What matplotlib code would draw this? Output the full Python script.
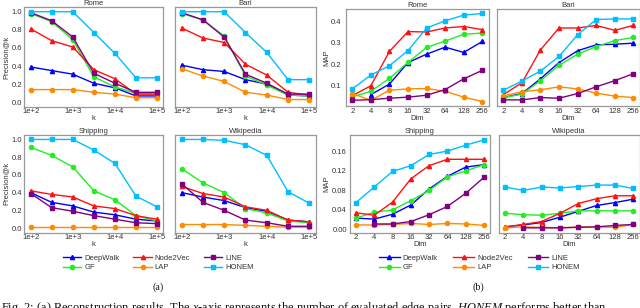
import numpy as np
import matplotlib
matplotlib.use("Agg")
import matplotlib.pyplot as plt
from matplotlib.lines import Line2D

nan = np.nan

methods = ['DeepWalk', 'GF', 'Node2Vec', 'LAP', 'LINE', 'HONEM']
colors = {'DeepWalk': '#0000ff', 'GF': '#22ee22', 'Node2Vec': '#ff1111',
          'LAP': '#ff8c00', 'LINE': '#800080', 'HONEM': '#00bfff'}
markers = {'DeepWalk': '^', 'GF': 'o', 'Node2Vec': '^', 'LAP': 'o',
           'LINE': 's', 'HONEM': 's'}

k_values = [100, 316, 1000, 3162, 10000, 31623, 100000]
k_ticks = [100, 1000, 10000, 100000]
k_labels = ['1e+2', '1e+3', '1e+4', '1e+5']
dims = ['2', '4', '8', '16', '32', '64', '128', '256']

prec_rome = {
    'DeepWalk': [0.39, 0.35, 0.31, 0.21, 0.16, 0.07, 0.07],
    'GF': [0.98, 0.89, 0.69, 0.28, 0.17, 0.10, 0.09],
    'Node2Vec': [0.81, 0.68, 0.61, 0.36, 0.26, 0.09, 0.09],
    'LAP': [0.14, 0.14, 0.14, 0.11, 0.09, 0.05, 0.05],
    'LINE': [0.99, 0.90, 0.72, 0.32, 0.21, 0.11, 0.11],
    'HONEM': [1.0, 1.0, 1.0, 0.77, 0.54, 0.27, 0.27],
}
prec_bari = {
    'DeepWalk': [0.41, 0.36, 0.34, 0.25, 0.20, 0.08, 0.07],
    'GF': [0.98, 0.91, 0.73, 0.29, 0.19, 0.08, 0.07],
    'Node2Vec': [0.82, 0.71, 0.66, 0.42, 0.30, 0.11, 0.08],
    'LAP': [0.37, 0.29, 0.23, 0.11, 0.08, 0.03, 0.03],
    'LINE': [0.99, 0.91, 0.72, 0.31, 0.21, 0.09, 0.09],
    'HONEM': [1.0, 1.0, 1.0, 0.77, 0.55, 0.25, 0.25],
}
prec_shipping = {
    'DeepWalk': [0.40, 0.29, 0.25, 0.18, 0.15, 0.10, 0.08],
    'GF': [0.91, 0.82, 0.69, 0.42, 0.32, 0.14, 0.08],
    'Node2Vec': [0.42, 0.38, 0.35, 0.25, 0.22, 0.14, 0.10],
    'LAP': [0.01, 0.01, 0.01, 0.01, 0.01, 0.01, 0.01],
    'LINE': [0.39, 0.23, 0.19, 0.14, 0.10, 0.06, 0.05],
    'HONEM': [1.0, 1.0, 1.0, 0.88, 0.73, 0.36, 0.24],
}
prec_wiki = {
    'DeepWalk': [0.40, 0.35, 0.31, 0.23, 0.19, 0.09, 0.07],
    'GF': [0.67, 0.51, 0.40, 0.22, 0.17, 0.08, 0.06],
    'Node2Vec': [0.47, 0.39, 0.35, 0.24, 0.20, 0.09, 0.07],
    'LAP': [0.04, 0.04, 0.04, 0.03, 0.02, 0.01, 0.01],
    'LINE': [0.50, 0.29, 0.20, 0.09, 0.06, 0.02, 0.02],
    'HONEM': [1.0, 1.0, 0.99, 0.94, 0.82, 0.41, 0.28],
}

map_rome = {
    'DeepWalk': [nan, 0.055, 0.105, 0.207, 0.247, 0.280, 0.255, 0.307],
    'GF': [0.044, 0.071, 0.132, 0.208, 0.279, 0.309, 0.341, 0.347],
    'Node2Vec': [0.050, 0.097, 0.260, 0.354, 0.352, 0.371, 0.378, 0.363],
    'LAP': [0.060, 0.028, 0.076, 0.082, 0.084, 0.071, 0.043, 0.022],
    'LINE': [0.028, 0.031, 0.038, 0.043, 0.052, 0.079, 0.130, 0.170],
    'HONEM': [0.082, 0.148, 0.192, 0.264, 0.371, 0.405, 0.432, 0.440],
}
map_bari = {
    'DeepWalk': [0.041, 0.060, 0.130, 0.207, 0.263, 0.291, 0.294, 0.299],
    'GF': [0.041, 0.057, 0.121, 0.194, 0.247, 0.283, 0.311, 0.326],
    'Node2Vec': [0.055, 0.111, 0.267, 0.371, 0.371, 0.383, 0.360, 0.383],
    'LAP': [0.049, 0.068, 0.078, 0.092, 0.082, 0.062, 0.048, 0.041],
    'LINE': [0.030, 0.030, 0.041, 0.038, 0.060, 0.092, 0.121, 0.154],
    'HONEM': [0.076, 0.119, 0.167, 0.236, 0.339, 0.411, 0.414, 0.414],
}
map_shipping = {
    'DeepWalk': [0.023, 0.021, 0.031, 0.050, 0.083, 0.109, 0.128, 0.133],
    'GF': [0.023, 0.035, 0.040, 0.059, 0.080, 0.108, 0.120, 0.133],
    'Node2Vec': [0.034, 0.029, 0.056, 0.104, 0.131, 0.144, 0.144, 0.144],
    'LAP': [0.009, 0.009, 0.010, 0.012, 0.010, 0.012, 0.011, 0.008],
    'LINE': [nan, 0.011, 0.011, 0.016, 0.030, 0.047, 0.074, 0.107],
    'HONEM': [0.055, 0.087, 0.119, 0.131, 0.154, 0.161, 0.173, 0.184],
}
map_wiki = {
    'DeepWalk': [0.005, 0.009, 0.014, 0.025, 0.037, 0.049, 0.055, 0.062],
    'GF': [0.033, 0.030, 0.029, 0.033, 0.038, 0.038, 0.038, 0.038],
    'Node2Vec': [0.005, 0.010, 0.016, 0.033, 0.053, 0.063, 0.069, 0.069],
    'LAP': [0.003, 0.005, 0.004, 0.003, 0.005, 0.005, 0.004, 0.010],
    'LINE': [nan, 0.003, 0.003, 0.003, 0.004, 0.005, 0.008, 0.010],
    'HONEM': [0.087, 0.080, 0.087, 0.085, 0.088, 0.091, 0.091, 0.084],
}

plt.rcParams['font.family'] = ['Liberation Sans', 'DejaVu Sans']
plt.rcParams['mathtext.fontset'] = 'custom'
plt.rcParams['mathtext.rm'] = 'Liberation Serif'
plt.rcParams['mathtext.it'] = 'Liberation Serif:italic'

W, H = 640, 308
fig = plt.figure(figsize=(6.4, 3.08), dpi=100)
TXT = '#333333'
FS = 5.5


def add_ax(l, r, t, b):
    return fig.add_axes([l / W, 1 - b / H, (r - l) / W, (b - t) / H])


def style(ax, xpad, ypad):
    for s in ax.spines.values():
        s.set_color('#999999')
        s.set_linewidth(0.9)
    ax.tick_params(length=0, labelsize=FS, colors=TXT)
    ax.tick_params(axis='x', pad=xpad)
    ax.tick_params(axis='y', pad=ypad)


def draw(ax, x, data):
    for m in methods:
        ax.plot(x, data[m], color=colors[m], marker=markers[m], lw=1.0,
                ms=3.0 if markers[m] != 's' else 3.2, label=m)


# (a) panels
pa = [(prec_rome, 'Rome', 24.4, 163.3, 7.2, 106.8, True, 0.6),
      (prec_bari, 'Bari', 175.3, 315.7, 7.2, 106.8, False, 0.6),
      (prec_shipping, 'Shipping', 24.4, 163.3, 135.0, 232.5, True, 1.2),
      (prec_wiki, 'Wikipedia', 175.3, 315.7, 135.0, 232.5, False, 1.2)]
for data, title, l, r, t, b, left, xpad in pa:
    ax = add_ax(l, r, t, b)
    draw(ax, k_values, data)
    ax.set_xscale('log')
    ax.set_xlim(10 ** 1.85, 10 ** 5.15)
    ax.set_xticks(k_ticks)
    ax.set_xticklabels(k_labels)
    ax.xaxis.set_minor_locator(matplotlib.ticker.NullLocator())
    ax.set_ylim(-0.05, 1.05)
    ax.set_yticks([0.0, 0.2, 0.4, 0.6, 0.8, 1.0])
    if left:
        ax.set_ylabel('Precision@k', fontsize=FS, color=TXT, labelpad=1.5)
    else:
        ax.set_yticklabels([])
    ax.set_xlabel('k', fontsize=FS, color=TXT, labelpad=0)
    ax.set_title(title, fontsize=FS, color=TXT, pad=1)
    style(ax, xpad, 1.7)

# (b) panels
xpos = np.arange(len(dims))
pb = [(map_rome, 'Rome', 345.8, 488.8, 9.0, 106.0, True, 0),
      (map_bari, 'Bari', 496.8, 639.8, 9.0, 106.0, False, 0),
      (map_shipping, 'Shipping', 349.6, 490.4, 135.0, 233.0, True, 1),
      (map_wiki, 'Wikipedia', 498.6, 639.7, 135.0, 233.0, False, 1)]
for data, title, l, r, t, b, left, row in pb:
    ax = add_ax(l, r, t, b)
    draw(ax, xpos, data)
    ax.set_xlim(-0.35, 7.35)
    ax.set_xticks(xpos)
    ax.set_xticklabels(dims)
    if row == 0:
        ax.set_ylim(0.001, 0.461)
        ax.set_yticks([0.1, 0.2, 0.3, 0.4])
        ypad, xpad, lp = 3.6, 1.5, 0.3
    else:
        ax.set_ylim(-0.0076, 0.194)
        ax.set_yticks([0.0, 0.04, 0.08, 0.12, 0.16])
        ax.set_yticklabels(['0.00', '0.04', '0.08', '0.12', '0.16'])
        ypad, xpad, lp = 2.0, 0.6, 1.0
    if left:
        ax.set_ylabel('MAP', fontsize=FS, color=TXT, labelpad=lp)
    else:
        ax.set_yticklabels([])
    ax.set_xlabel('Dim', fontsize=FS, color=TXT, labelpad=0.3)
    ax.set_title(title, fontsize=FS, color=TXT, pad=0.5)
    style(ax, xpad, ypad)

handles = [Line2D([], [], color=colors[m], marker=markers[m], lw=1.0, ms=3)
           for m in methods]
for cx, hl, cs in [(158.5, 2.4, 1.8), (479.5, 2.7, 2.0)]:
    fig.legend(handles, methods, loc='center', bbox_to_anchor=(cx / W, 1 - 263 / H),
               ncol=3, frameon=False, fontsize=FS, handlelength=hl,
               handletextpad=0.4, columnspacing=cs, labelspacing=0.3,
               borderpad=0, labelcolor=TXT)

fig.text(158 / W, 1 - 287 / H, '(a)', ha='center', va='center',
         family='Liberation Serif', fontsize=7.2, color='#111111')
fig.text(478 / W, 1 - 287 / H, '(b)', ha='center', va='center',
         family='Liberation Serif', fontsize=7.2, color='#111111')
fig.text(1 / W, (H - 311) / H,
         'Fig. 2: (a) Reconstruction results. The $x$-axis represents the number of '
         'evaluated edge pairs. $HONEM$ performs better than',
         ha='left', va='baseline', family='Liberation Serif', fontsize=8.9,
         color='#111111')

fig.savefig('out.png', dpi=100)
